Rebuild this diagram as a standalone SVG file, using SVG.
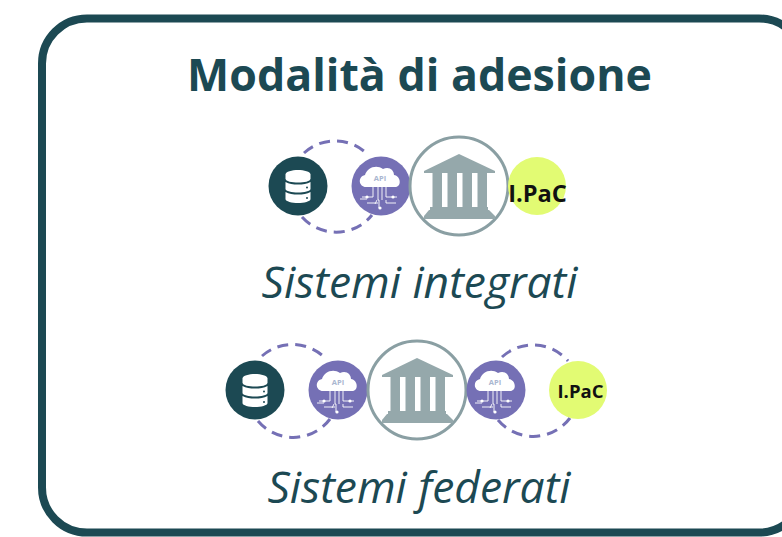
<svg xmlns="http://www.w3.org/2000/svg" xmlns:xlink="http://www.w3.org/1999/xlink" width="782" height="537" viewBox="0 0 782 537">
<style>
text{font-family:"Open Sans","Liberation Sans",sans-serif;font-variant-ligatures:none}
.title{font-size:44.700px;font-weight:700;fill:#1c4953;text-anchor:middle}
.sub{font-size:44.400px;font-style:italic;fill:#1c4953;text-anchor:middle}
.ipac{font-weight:700;fill:#111;text-anchor:middle}
.apit{font-size:7.500px;font-weight:700;fill:#a9b6d0;text-anchor:middle}
.dash{fill:none;stroke:#7570b5;stroke-width:3;stroke-dasharray:11 7}
.circ{fill:none;stroke:#fff;stroke-width:.9}
</style>
<defs>
<symbol id="db" overflow="visible">
<circle r="29.500" fill="#1c4953"/>
<g fill="#fff">
<path d="M-12.500-11.500C-12.500-14.500-6-16-0-16S12.500-14.500 12.500-11.500V-7.500C12.500-4.500 6-3.500 0-3.500S-12.500-4.500-12.500-7.500Z"/>
<path d="M-12.500-4C-9-2-5-1.500 0-1.500S9-2 12.500-4V3C12.500 5 6 6.500 0 6.500S-12.500 5-12.500 3Z"/>
<path d="M-12.500 6C-9 8-5 8.500 0 8.500S9 8 12.500 6V13C12.500 15.500 6 17 0 17S-12.500 15.500-12.500 13Z"/>
</g>
<circle cx="9" cy="1.500" r="1" fill="#1c4953"/><circle cx="9" cy="12" r="1" fill="#1c4953"/>
</symbol>
<symbol id="api" overflow="visible">
<circle r="29.500" fill="#7570b5"/>
<path d="M-15 1C-22 1-24-9-16-11C-14-18-5-22 2-17C8-20 13-16 13-11C20-10 21 1 14 1Z" fill="#fff"/>
<path class="circ" d="M-8 1V11H-14H-19M-3 1V14H-2V22M1 1V14H1M5 1V11H11H16M-14 13H-21M-3 17H-14M5 14V17H15M-4 14L-6 18"/>
<circle cx="-14" cy="11" r="1.600" fill="#fff"/><circle cx="-1" cy="22" r="1.600" fill="#fff"/><circle cx="12" cy="11" r="1.600" fill="#fff"/>
</symbol>
<symbol id="bank" overflow="visible">
<circle r="49" fill="#fff" stroke="#8a9fa3" stroke-width="3"/>
<g fill="#95a8ab">
<path d="M0-32L36-15V-13H-35V-15Z"/>
<rect x="-26.500" y="-13" width="9.500" height="34"/><rect x="-11.500" y="-13" width="9.500" height="34"/><rect x="3.500" y="-13" width="9.500" height="34"/><rect x="18.500" y="-13" width="9.500" height="34"/>
<rect x="-29" y="21" width="58" height="3"/>
<path d="M-30 24H30L36 30V33H-35V30Z"/>
</g>
</symbol>
</defs>
<g id="frame"><rect x="42" y="18.500" width="762" height="514" rx="45" fill="#fff" stroke="#1c4953" stroke-width="8"/></g>
<text id="title" class="title" x="419.500" y="91">Modalità di adesione</text>
<g id="connectors">
<path class="dash" d="M304 153A46 46 0 0 1 365 152"/>
<path class="dash" d="M302 217A46 46 0 0 0 372 215"/>
<path class="dash" d="M262 356A46 46 0 0 1 323 356"/>
<path class="dash" d="M258 421A46 46 0 0 0 330 419"/>
<path class="dash" d="M502 357A46 46 0 0 1 568 361"/>
<path class="dash" d="M498 420A46 46 0 0 0 570 418"/>
</g>
<g id="row1">
<g id="db1"><use href="#db" xlink:href="#db" x="298" y="186"/></g>
<g id="api1"><use href="#api" xlink:href="#api" x="381" y="186"/><text class="apit" x="380" y="181">API</text></g>
<g id="bank1"><use href="#bank" xlink:href="#bank" x="459" y="186"/></g>
<g id="ipac1"><circle cx="537" cy="186" r="29" fill="#e2fb73"/><text class="ipac" x="537.500" y="202" font-size="23.600">I.PaC</text></g>
</g>
<text id="sub1" class="sub" x="419.500" y="298">Sistemi integrati</text>
<g id="row2">
<g id="db2"><use href="#db" xlink:href="#db" x="255" y="390"/></g>
<g id="api2"><use href="#api" xlink:href="#api" x="338" y="390"/><text class="apit" x="338" y="385">API</text></g>
<g id="bank2"><use href="#bank" xlink:href="#bank" x="417" y="390"/></g>
<g id="api3"><use href="#api" xlink:href="#api" x="496" y="390"/><text class="apit" x="495" y="385">API</text></g>
<g id="ipac2"><circle cx="578" cy="390" r="29" fill="#e2fb73"/><text class="ipac" x="580.500" y="398" font-size="18.500">I.PaC</text></g>
</g>
<text id="sub2" class="sub" x="419" y="503">Sistemi federati</text>
</svg>
